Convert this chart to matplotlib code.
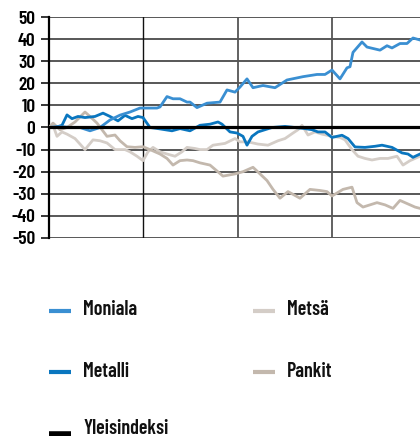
import matplotlib
matplotlib.use("Agg")
import matplotlib.pyplot as plt
from matplotlib.lines import Line2D
import numpy as np

# ---- data (x in trading days, 100 days per vertical gridline) ----
moniala_px = [49, 60, 70, 80, 90, 100, 110, 120, 130, 140, 150, 157, 160, 167, 173, 180, 187, 190, 197, 207,
              220, 227, 235, 240, 247, 253, 263, 275, 287, 303, 317, 325, 332, 340, 347, 350, 353, 362, 367,
              380, 387, 392, 400, 407, 413, 420]
moniala = [0, 0.5, 0, 0, -1.5, 0, 3.4, 5.6, 7, 8.8, 8.8, 8.8, 9.3, 14, 13, 13, 11.5, 11.5, 9, 11,
           11.5, 17, 16, 18.3, 22, 18, 19, 18, 21.5, 23, 24, 24, 26, 22, 27, 27.5, 34, 38.7, 36.4,
           35, 37, 36, 38, 38, 40.5, 39.6]

metalli_px = [49, 55, 62, 67, 72, 78, 85, 95, 103, 110, 118, 125, 132, 138, 143, 150, 158, 165, 172, 180,
              190, 200, 210, 218, 222, 230, 237, 243, 247, 252, 258, 265, 272, 285, 295, 305, 312, 318,
              325, 332, 342, 348, 355, 365, 375, 382, 392, 402, 408, 413, 420]
metalli = [0, 0, 1, 5.7, 4, 5, 4.5, 5, 6.5, 5, 3, 5.5, 4, 5, 4.5, 0, -0.5, -1, -1.5, -0.5,
           -1.5, 1, 1.5, 2.5, 1.5, -2, -2.5, -4, -8, -4, -2, -1, 0, 0.5, 0, -0.5, -1, -2,
           -2, -4.5, -3.5, -5, -8.8, -9, -8.5, -8, -9, -11.5, -12, -13.5, -12]

metsa_px = [49, 53, 57, 62, 67, 75, 85, 93, 100, 107, 115, 125, 130, 137, 143, 148, 153, 160, 167, 175,
            182, 187, 195, 200, 207, 213, 225, 235, 240, 248, 258, 268, 278, 285, 293, 298, 302, 308,
            315, 322, 332, 340, 345, 352, 358, 365, 372, 380, 388, 397, 403, 410, 420]
metsa = [0, 1, -4, -2, -3, -5, -10, -5.6, -6, -7, -10, -10, -11, -13, -15, -11, -9, -11, -12, -13,
         -11, -9, -9.5, -10, -10, -8, -7.2, -5, -6.5, -6.5, -7.5, -8, -6, -5, -2.5, -1, 1, -3.4,
         -2, -3, -4, -4.5, -5.6, -10, -13, -14, -14.7, -14, -14, -13, -17, -15, -13]

pankit_px = [49, 53, 60, 67, 75, 85, 90, 97, 107, 115, 120, 127, 135, 143, 150, 160, 167, 173, 180, 187,
             193, 200, 210, 223, 235, 243, 253, 260, 267, 273, 280, 288, 300, 310, 320, 327, 332, 343,
             352, 357, 363, 370, 377, 385, 393, 400, 410, 415, 420]
pankit = [0, 2, -1, 0, 2.5, 7, 5, 2, -4, -3.4, -6, -8.7, -9, -8.7, -10, -12, -14, -17, -15, -14.7,
          -15, -16, -17, -22, -21, -20, -18, -21, -24, -28, -32, -29, -32, -28, -28.5, -29, -31, -28,
          -27, -34, -36, -35, -34, -35, -36.6, -33, -35, -36, -36.6]

labels = ["Moniala", "Metalli", "Yleisindeksi", "Metsä", "Pankit"]
yticks = [50, 40, 30, 20, 10, 0, -10, -20, -30, -40, -50]


def px_to_day(px):
    return (np.asarray(px, dtype=float) - 49) * 100 / 94.3


C_MONIALA = "#3a8fd2"
C_METALLI = "#0a76bf"
C_METSA = "#d4cdc7"
C_PANKIT = "#c3b8ad"

plt.rcParams['font.family'] = ["Barlow Condensed", "DejaVu Sans"]

W, H = 420, 436
fig = plt.figure(figsize=(W / 100, H / 100), dpi=100)
left, right, top, bottom = 49, 420, 17, 238
ax = fig.add_axes([left / W, 1 - bottom / H, (right - left) / W, (bottom - top) / H])

ax.set_ylim(-50, 50)
ax.set_xlim(0, px_to_day(420))

# gridlines
for v in yticks:
    if v == 0:
        continue
    ax.axhline(v, color="#2a2a2a", lw=1.1, zorder=1)
ax.axvline(100, color="#111111", lw=1.0, zorder=1)
ax.axvline(200, color="#555555", lw=1.3, zorder=1)
ax.axvline(300, color="#555555", lw=1.3, zorder=1)

# series
ax.plot(px_to_day(metsa_px), metsa, color=C_METSA, lw=2.0, zorder=3)
ax.plot(px_to_day(pankit_px), pankit, color=C_PANKIT, lw=2.0, zorder=3)
ax.plot(px_to_day(metalli_px), metalli, color=C_METALLI, lw=2.0, zorder=4)
ax.plot(px_to_day(moniala_px), moniala, color=C_MONIALA, lw=2.0, zorder=4)
ax.axhline(0, color="black", lw=2.3, zorder=5)

for s in ["top", "right", "bottom"]:
    ax.spines[s].set_visible(False)
ax.spines["left"].set_linewidth(1.6)
ax.set_xticks([])
ax.set_yticks(yticks)
ax.set_yticklabels([str(v) for v in yticks])
ax.tick_params(axis="y", length=5.8, width=1.1, pad=4, labelsize=14)
for t in ax.get_yticklabels():
    t.set_fontweight(600)

# legend drawn manually
items = [
    ("Moniala", C_MONIALA, 49, 311, 315),
    ("Metalli", C_METALLI, 49, 372, 377),
    ("Yleisindeksi", "black", 49, 434, 434),
    ("Metsä", C_METSA, 253, 311, 315),
    ("Pankit", C_PANKIT, 253, 372, 377),
]
for name, col, x0, y0, yb in items:
    fig.add_artist(Line2D([x0 / W, (x0 + 22) / W], [1 - y0 / H, 1 - y0 / H],
                          color=col, lw=3.0 if col != "black" else 4.0,
                          solid_capstyle="butt", transform=fig.transFigure))
    fig.text((x0 + 34) / W, 1 - yb / H, name, ha="left", va="baseline",
             fontsize=14.5, fontweight=600, color="#111111")

fig.savefig("out.png", dpi=100)
